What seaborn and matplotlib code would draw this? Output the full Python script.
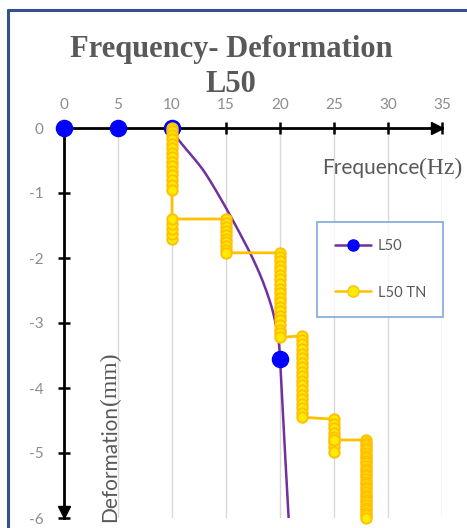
import numpy as np
import pandas as pd
import seaborn as sns
import matplotlib.pyplot as plt
from matplotlib.lines import Line2D

# ---------------- data ----------------
l50_freq = [0, 5, 10, 20]
l50_def = [0, 0, 0, -3.55]
# trace of the L50 line (as drawn in the reference)
l50_line_freq = [0, 5, 10, 10.6, 11.8, 13.1, 14.9, 16.6, 17.6, 18.5, 19.3, 19.8, 20, 20.4, 20.8]
l50_line_def = [0, 0, 0, -0.18, -0.42, -0.70, -1.2, -1.72, -2.05, -2.4, -2.8, -3.2, -3.55, -4.8, -6.0]

tn_step_freq = [10, 15, 20, 22, 25, 28]
tn_step_def = [
    [0, -0.05, -0.1, -0.17, -0.24, -0.31, -0.38, -0.45, -0.52, -0.59, -0.66,
     -0.73, -0.8, -0.87, -0.95, -1.7, -1.63, -1.55, -1.47, -1.4],
    [-1.4, -1.46, -1.52, -1.58, -1.64, -1.7, -1.76, -1.82, -1.87, -1.92],
    [-1.92, -1.98, -2.05, -2.12, -2.19, -2.26, -2.33, -2.4, -2.47, -2.54, -2.61,
     -2.68, -2.75, -2.82, -2.89, -2.96, -3.03, -3.1, -3.16, -3.22],
    [-3.2, -3.26, -3.33, -3.4, -3.47, -3.54, -3.61, -3.68, -3.75, -3.82, -3.89,
     -3.96, -4.03, -4.1, -4.17, -4.24, -4.31, -4.38, -4.45],
    [-4.48, -4.55, -4.62, -4.69, -4.76, -4.83, -4.9, -4.98, -4.8],
    [-4.8, -4.84, -4.88, -4.92, -4.96, -5.0, -5.04, -5.08, -5.12, -5.16, -5.2,
     -5.24, -5.28, -5.32, -5.36, -5.4, -5.44, -5.48, -5.52, -5.56, -5.6, -5.64,
     -5.68, -5.72, -5.76, -5.8, -5.84, -5.88, -5.92, -5.96, -6.0],
]

x_ticks = [0, 5, 10, 15, 20, 25, 30, 35]
y_ticks = [0, -1, -2, -3, -4, -5, -6]
series_names = ["L50", "L50 TN"]

tn_df = pd.DataFrame({
    "freq": [f for f, ds in zip(tn_step_freq, tn_step_def) for _ in ds],
    "def": [d for ds in tn_step_def for d in ds],
})


def smooth_path(xs, ys, n=12):
    """Catmull-Rom rendering of a traced line (like a spreadsheet's smoothed line)."""
    p = np.column_stack([xs, ys]).astype(float)
    p = np.vstack([p[0], p, p[-1]])
    out = []
    t = np.linspace(0, 1, n, endpoint=False)[:, None]
    for i in range(1, len(p) - 2):
        p0, p1, p2, p3 = p[i - 1], p[i], p[i + 1], p[i + 2]
        seg = 0.5 * ((2 * p1) + (-p0 + p2) * t + (2 * p0 - 5 * p1 + 4 * p2 - p3) * t ** 2
                     + (-p0 + 3 * p1 - 3 * p2 + p3) * t ** 3)
        out.append(seg)
    out.append(p[-2][None, :])
    out = np.vstack(out)
    return out[:, 0], out[:, 1]


# ---------------- figure ----------------
sns.set_theme(style="white")
plt.rcParams["font.family"] = ["Lato", "DejaVu Sans"]

W, H = 467, 528
fig = plt.figure(figsize=(W / 100, H / 100), dpi=100)
fig.patch.set_facecolor("white")

# outer frame (chart border, only top/left visible in the crop)
navy = "#34508F"
fig.add_artist(Line2D([8 / W, 8 / W], [0, 1 - 10 / H], color=navy, lw=2.2,
                      transform=fig.transFigure))
fig.add_artist(Line2D([8 / W, 1], [1 - 10 / H, 1 - 10 / H], color=navy, lw=2.2,
                      transform=fig.transFigure))

ax = fig.add_axes([64 / W, 10 / H, 378 / W, 390 / H])
ax.set_facecolor("none")

# gridlines
for xv in x_ticks[1:]:
    ax.axvline(xv, color="#D9D9D9", lw=1.0, zorder=0)

# L50 line (straight along the axis, smoothed afterwards)
purple = "#7030A0"
sx, sy = smooth_path(l50_line_freq[2:], l50_line_def[2:])
line_x = list(l50_line_freq[:2]) + list(sx)
line_y = list(l50_line_def[:2]) + list(sy)
sns.lineplot(x=line_x, y=line_y, sort=False, estimator=None,
             color=purple, lw=1.8, ax=ax, zorder=2)
sns.scatterplot(x=l50_freq, y=l50_def, s=135, color="#0000FF", edgecolor="#0000FF",
                linewidth=1, ax=ax, zorder=4, clip_on=False)

# L50 TN step series
gold = "#FFC000"
sns.lineplot(data=tn_df, x="freq", y="def", sort=False, estimator=None,
             color=gold, lw=2.0, marker="o", ms=7.5, mfc="#FFEA00", mec=gold,
             mew=1.4, ax=ax, zorder=5, clip_on=False)

ax.set_xlim(0, 35)
ax.set_ylim(-6, 0)

# spines (axis lines at y=0 / x=0)
for s in ["bottom", "right"]:
    ax.spines[s].set_visible(False)
for s in ["top", "left"]:
    ax.spines[s].set_color("black")
    ax.spines[s].set_linewidth(2.0)

ax.xaxis.tick_top()
ax.set_xticks(x_ticks)
ax.set_yticks(y_ticks)
ax.set_xticklabels([str(v) for v in x_ticks])
ax.set_yticklabels([str(v) for v in y_ticks])
ax.tick_params(axis="x", direction="inout", length=9, width=1.8, color="black",
               pad=7, labelsize=11, labelcolor="#8C8C8C", top=True, bottom=False)
ax.tick_params(axis="y", direction="inout", length=9, width=1.8, color="black",
               pad=10, labelsize=11, labelcolor="#8C8C8C", left=True)
ax.set_xlabel("")
ax.set_ylabel("")

# arrow heads
ax.plot([34.55], [0], marker=">", ms=8, color="black", clip_on=False, zorder=3)
ax.plot([0], [-5.9], marker="v", ms=8, color="black", clip_on=False, zorder=3)

# legend
handles = [
    Line2D([], [], color=purple, lw=1.8, marker="o", ms=8, mfc="#0000FF", mec="#0000FF"),
    Line2D([], [], color=gold, lw=1.8, marker="o", ms=8, mfc="#FFEA00", mec=gold),
]
leg = ax.legend(handles, series_names, loc="upper left",
                bbox_to_anchor=(317 / W, 1 - 222 / H), bbox_transform=fig.transFigure,
                frameon=True, fancybox=False, fontsize=10.5, handlelength=2.5,
                handletextpad=0.45, labelspacing=2.2, borderpad=1.2,
                borderaxespad=0)
leg.get_frame().set_edgecolor("#6E9BD6")
leg.get_frame().set_linewidth(1.3)
for t in leg.get_texts():
    t.set_color("#595959")

# title
fig.text(231 / W, 1 - 57 / H, "Frequency- Deformation", ha="center", va="baseline",
         fontsize=22, fontweight="bold", family=["Liberation Serif"], color="#595959")
fig.text(231 / W, 1 - 92 / H, "L50", ha="center", va="baseline",
         fontsize=22, fontweight="bold", family=["Liberation Serif"], color="#595959")

renderer = fig.canvas.get_renderer()
# x label
t1 = fig.text(322 / W, 1 - 174 / H, "Frequence", ha="left", va="baseline",
              fontsize=15, family=["Lato"], color="#595959")
bb = t1.get_window_extent(renderer)
fig.text(bb.x1 / W, 1 - 174 / H, "(Hz)", ha="left", va="baseline",
         fontsize=17, family=["Liberation Serif"], color="#595959")

# y label
t3 = fig.text(116 / W, 6 / H, "Deformation", ha="left", va="baseline", rotation=90,
              rotation_mode="anchor", fontsize=15, family=["Lato"], color="#595959")
bb = t3.get_window_extent(renderer)
fig.text(116 / W, bb.y1 / H, "(mm)", ha="left", va="baseline", rotation=90,
         rotation_mode="anchor", fontsize=17, family=["Liberation Serif"], color="#595959")

fig.savefig("out.png", dpi=100)
